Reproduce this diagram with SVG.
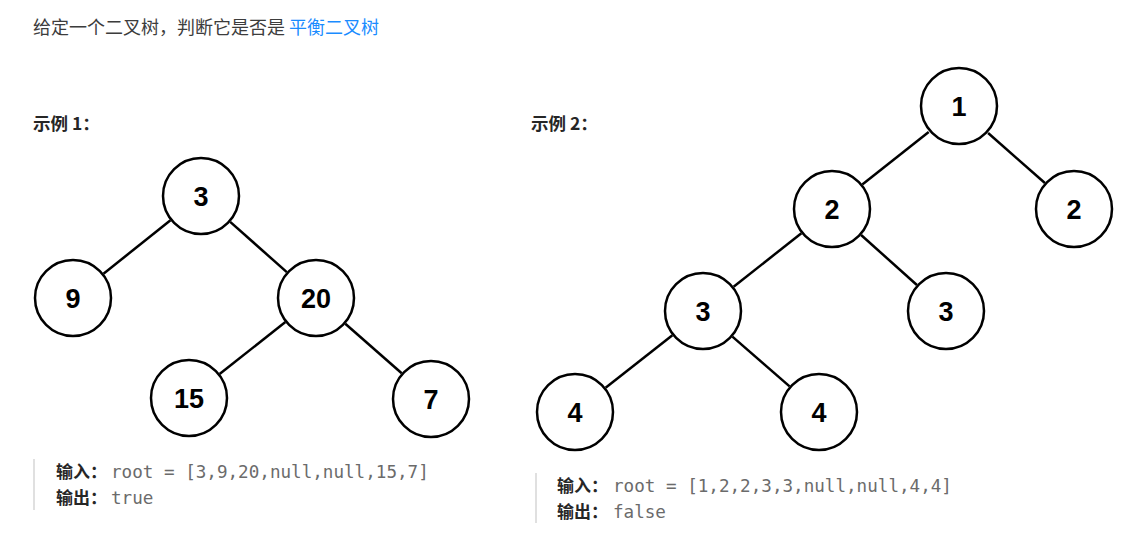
<svg xmlns="http://www.w3.org/2000/svg" width="1146" height="543" viewBox="0 0 1146 543">
<style>
.t{font-family:"Noto Sans CJK SC","Noto Sans",sans-serif;}
.title{font-size:18px;fill:#3c3c3c;}
.link{fill:#1a8cff;}
.h{font-size:17.5px;font-weight:bold;fill:#262626;}
.lab{font-size:17px;font-weight:bold;fill:#262626;}
.mono{font-family:"DejaVu Sans Mono",monospace;font-size:17.6px;fill:#6b6b6b;}
.bar{stroke:#e0e0e0;stroke-width:2;}
.node circle{fill:#fff;stroke:#000;stroke-width:2.5;}
.node text{font-family:"Liberation Sans",Arial,sans-serif;font-size:27px;font-weight:bold;fill:#000;text-anchor:middle;}
.edges line{stroke:#000;stroke-width:2.5;}
</style>
<rect width="1146" height="543" fill="#fff"/>
<text class="t title" x="33" y="34">给定一个二叉树，判断它是否是 <tspan class="link">平衡二叉树</tspan></text>
<text class="t h" x="33" y="130">示例 1：</text>
<text class="t h" x="531" y="130">示例 2：</text>

<g id="connectors" class="edges">
<line x1="170.5" y1="220.3" x2="103.5" y2="273.7"/>
<line x1="230.2" y1="221.9" x2="286.8" y2="272.1"/>
<line x1="285.4" y1="322.1" x2="219.6" y2="373.9"/>
<line x1="345.3" y1="323.7" x2="401.7" y2="373.3"/>
<line x1="928.7" y1="132" x2="862.3" y2="184.4"/>
<line x1="988.1" y1="133" x2="1044.9" y2="183"/>
<line x1="801.4" y1="233.2" x2="733.6" y2="286.8"/>
<line x1="861.1" y1="235" x2="916.9" y2="285"/>
<line x1="672.4" y1="335.2" x2="605.6" y2="387.8"/>
<line x1="732.4" y1="336.6" x2="789.6" y2="386.4"/>
</g>

<g id="n1-3" class="node"><circle cx="201" cy="196" r="38"/><text x="201" y="206">3</text></g>
<g id="n1-9" class="node"><circle cx="73" cy="298" r="38"/><text x="73" y="308">9</text></g>
<g id="n1-20" class="node"><circle cx="316" cy="298" r="38"/><text x="316" y="308">20</text></g>
<g id="n1-15" class="node"><circle cx="189" cy="398" r="38"/><text x="189" y="408">15</text></g>
<g id="n1-7" class="node"><circle cx="431" cy="399" r="38"/><text x="431" y="409">7</text></g>

<g id="n2-1" class="node"><circle cx="959" cy="106" r="38"/><text x="959" y="116">1</text></g>
<g id="n2-2a" class="node"><circle cx="832" cy="209" r="38"/><text x="832" y="219">2</text></g>
<g id="n2-2b" class="node"><circle cx="1074" cy="209" r="38"/><text x="1074" y="219">2</text></g>
<g id="n2-3a" class="node"><circle cx="703" cy="311" r="38"/><text x="703" y="321">3</text></g>
<g id="n2-3b" class="node"><circle cx="946" cy="311" r="38"/><text x="946" y="321">3</text></g>
<g id="n2-4a" class="node"><circle cx="575" cy="412" r="38"/><text x="575" y="422">4</text></g>
<g id="n2-4b" class="node"><circle cx="819" cy="412" r="38"/><text x="819" y="422">4</text></g>

<g id="code1">
<line class="bar" x1="34" y1="459" x2="34" y2="510"/>
<text class="t lab" x="56" y="478">输入：</text>
<text class="mono" x="111" y="478">root = [3,9,20,null,null,15,7]</text>
<text class="t lab" x="56" y="504">输出：</text>
<text class="mono" x="111" y="504">true</text>
</g>
<g id="code2">
<line class="bar" x1="536" y1="473" x2="536" y2="523"/>
<text class="t lab" x="557" y="492">输入：</text>
<text class="mono" x="613" y="492">root = [1,2,2,3,3,null,null,4,4]</text>
<text class="t lab" x="557" y="518">输出：</text>
<text class="mono" x="613" y="518">false</text>
</g>
</svg>
